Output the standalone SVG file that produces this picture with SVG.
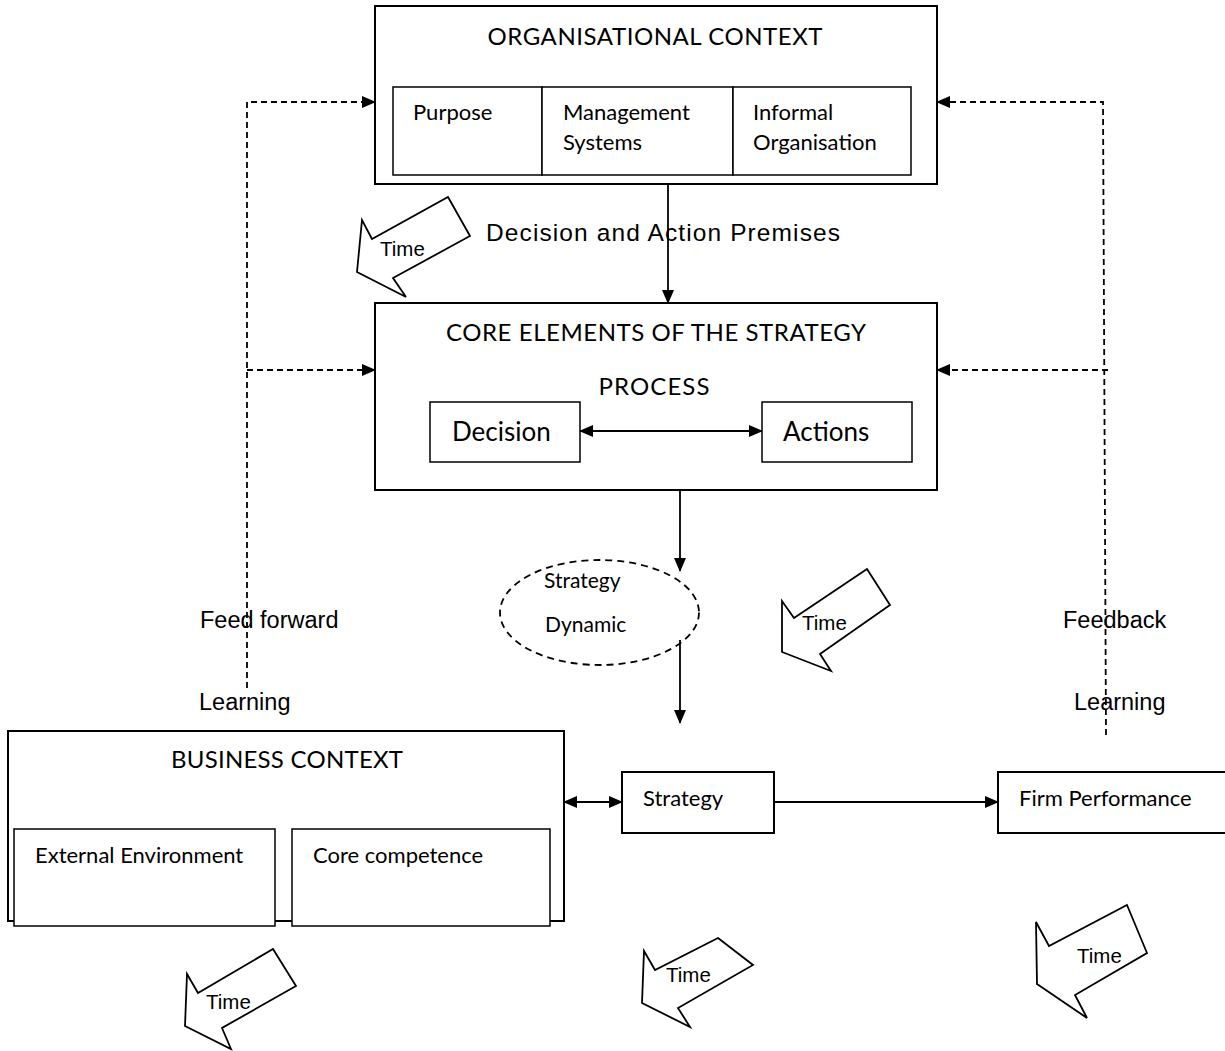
<svg xmlns="http://www.w3.org/2000/svg" width="1225" height="1051" viewBox="0 0 1225 1051">
<style>
.box{fill:#fff;stroke:#000;stroke-width:2}
.ib{fill:#fff;stroke:#000;stroke-width:1.5}
.c{font-family:Lato,"Open Sans",sans-serif;fill:#000}
.a{font-family:"Liberation Sans",Arial,sans-serif;fill:#000}
.ln{fill:none;stroke:#000;stroke-width:1.8}
.dl{fill:none;stroke:#000;stroke-width:1.8;stroke-dasharray:6,4}
.tm{fill:#fff;stroke:#000;stroke-width:1.8;stroke-linejoin:miter}
</style>
<defs>
<marker id="ah" markerWidth="14" markerHeight="12" refX="13" refY="6" orient="auto" markerUnits="userSpaceOnUse">
<path d="M0,0 L14,6 L0,12 Z" fill="#000"/>
</marker>
<marker id="as" markerWidth="14" markerHeight="12" refX="1" refY="6" orient="auto" markerUnits="userSpaceOnUse">
<path d="M14,0 L0,6 L14,12 Z" fill="#000"/>
</marker>
</defs>

<g id="org-context">
<rect class="box" x="375" y="6" width="562" height="178"/>
<text class="c" x="655" y="45" font-size="24" text-anchor="middle" textLength="335">ORGANISATIONAL CONTEXT</text>
<rect class="ib" x="393" y="87" width="149" height="88"/>
<rect class="ib" x="542" y="87" width="191" height="88"/>
<rect class="ib" x="733" y="87" width="178" height="88"/>
<text class="c" x="413" y="120" font-size="22">Purpose</text>
<text class="c" x="563" y="120" font-size="22">Management</text>
<text class="c" x="563" y="150" font-size="22">Systems</text>
<text class="c" x="753" y="120" font-size="22">Informal</text>
<text class="c" x="753" y="150" font-size="22">Organisation</text>
</g>

<g id="core-elements">
<rect class="box" x="375" y="303" width="562" height="187"/>
<text class="c" x="656" y="341" font-size="24" text-anchor="middle" textLength="420">CORE ELEMENTS OF THE STRATEGY</text>
<text class="c" x="654" y="395" font-size="24" text-anchor="middle" textLength="111">PROCESS</text>
<rect class="ib" x="430" y="402" width="150" height="60"/>
<text class="c" x="452" y="441" font-size="26">Decision</text>
<rect class="ib" x="762" y="402" width="150" height="60"/>
<text class="c" x="783" y="441" font-size="26">Actions</text>
</g>

<g id="strategy-dynamic">
<ellipse cx="599.5" cy="612.5" rx="99.5" ry="52.5" fill="none" stroke="#000" stroke-width="1.8" stroke-dasharray="7,5"/>
<text class="c" x="544" y="588" font-size="21">Strategy</text>
<text class="c" x="545" y="632" font-size="21">Dynamic</text>
</g>

<g id="business-context">
<rect class="box" x="8" y="731" width="556" height="190"/>
<text class="c" x="287" y="768" font-size="24" text-anchor="middle" textLength="232">BUSINESS CONTEXT</text>
<rect class="ib" x="14" y="829" width="261" height="97"/>
<text class="c" x="35" y="863" font-size="22">External Environment</text>
<rect class="ib" x="292" y="829" width="258" height="97"/>
<text class="c" x="313" y="863" font-size="22">Core competence</text>
</g>

<g id="strategy">
<rect class="box" x="622" y="772" width="152" height="61"/>
<text class="c" x="643" y="806" font-size="22">Strategy</text>
</g>

<g id="firm-performance">
<rect class="box" x="998" y="772" width="240" height="61"/>
<text class="c" x="1019" y="806" font-size="22">Firm Performance</text>
</g>

<g id="labels">
<text class="a" x="486" y="241" font-size="24.5" textLength="354">Decision and Action Premises</text>
<text class="a" x="200" y="628" font-size="23.5">Feed forward</text>
<text class="a" x="199" y="710" font-size="23.5">Learning</text>
<text class="a" x="1063" y="628" font-size="23.5">Feedback</text>
<text class="a" x="1074" y="710" font-size="23.5">Learning</text>
</g>

<g id="time-arrows">
<g id="time1">
<polygon class="tm" points="448,197 470,236 393,278 406,297 357,272 362,220 372,239"/>
<text class="a" x="380" y="256" font-size="20.5">Time</text>
</g>
<g id="time2">
<polygon class="tm" points="867,569 890,605 820,654 831,671 782,652 782,601 794,618"/>
<text class="a" x="802" y="630" font-size="20.5">Time</text>
</g>
<g id="time3">
<polygon class="tm" points="273,949 296,986 222,1028 231,1049 185,1026 187,974 198,993"/>
<text class="a" x="206" y="1009" font-size="20.5">Time</text>
</g>
<g id="time4">
<polygon class="tm" points="718,938 753,965 678,1008 690,1027 642,1003 644,951 655,970"/>
<text class="a" x="666" y="982" font-size="20.5">Time</text>
</g>
<g id="time5">
<polygon class="tm" points="1127,905 1147,953 1075,995 1087,1018 1037,984 1036,922 1049,946"/>
<text class="a" x="1077" y="963" font-size="20.5">Time</text>
</g>
</g>

<g id="connectors">
<line class="ln" x1="668" y1="184" x2="668" y2="303" marker-end="url(#ah)"/>
<line class="ln" x1="580" y1="431" x2="762" y2="431" marker-start="url(#as)" marker-end="url(#ah)"/>
<line class="ln" x1="680" y1="490" x2="680" y2="571" marker-end="url(#ah)"/>
<line class="ln" x1="680" y1="640" x2="680" y2="723" marker-end="url(#ah)"/>
<line class="ln" x1="564" y1="802" x2="622" y2="802" marker-start="url(#as)" marker-end="url(#ah)"/>
<line class="ln" x1="774" y1="802" x2="998" y2="802" marker-end="url(#ah)"/>
<polyline class="dl" points="247,688 247,102 375,102" marker-end="url(#ah)"/>
<line class="dl" x1="247" y1="370" x2="375" y2="370" marker-end="url(#ah)"/>
<polyline class="dl" points="1106,735 1103,102 937,102" marker-end="url(#ah)"/>
<line class="dl" x1="1108" y1="370" x2="937" y2="370" marker-end="url(#ah)"/>
</g>
</svg>
